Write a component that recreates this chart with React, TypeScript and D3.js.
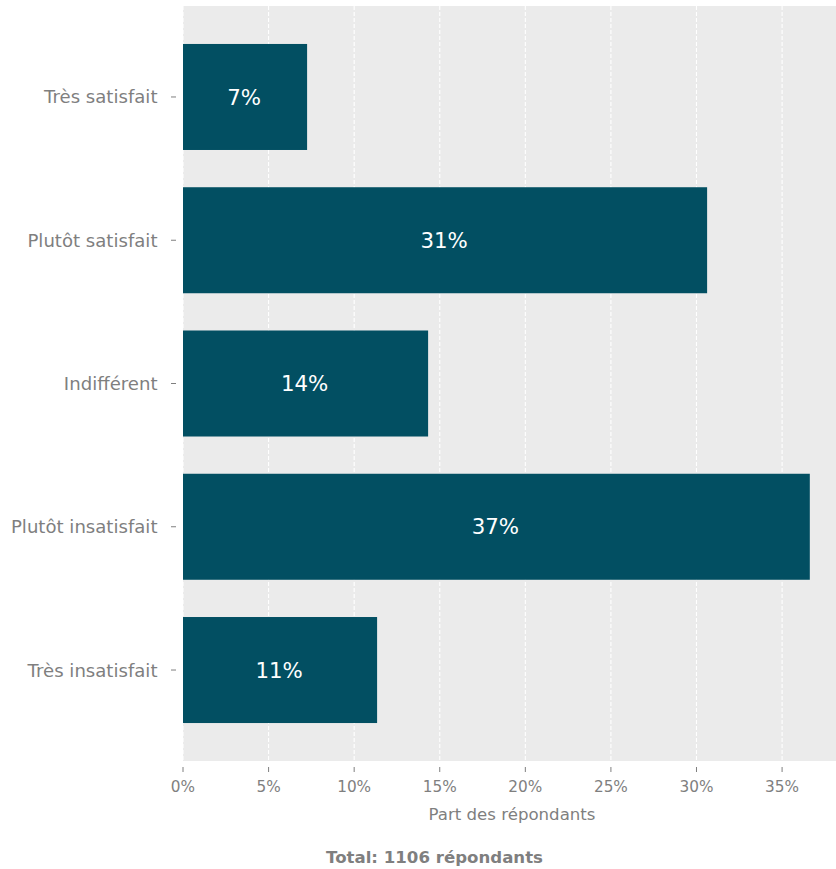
import React from "react";
import * as d3 from "d3";

const categories = ["Très satisfait", "Plutôt satisfait", "Indifférent", "Plutôt insatisfait", "Très insatisfait"];
const values = [0.0725, 0.3062, 0.1432, 0.3662, 0.1134];
const barLabels = ["7%", "31%", "14%", "37%", "11%"];
const xTicks = [0, 0.05, 0.1, 0.15, 0.2, 0.25, 0.3, 0.35];
const xTickLabels = ["0%", "5%", "10%", "15%", "20%", "25%", "30%", "35%"];
const xTitle = "Part des répondants";
const caption = "Total: 1106 répondants";

const W = 836;
const H = 869;
const FONT = "'DejaVu Sans', Verdana, sans-serif";

export default function App() {
  const panel = { left: 183, right: 836, top: 6, bottom: 761 };
  const x = d3.scaleLinear().domain([0, 0.3815]).range([panel.left, panel.right]);
  const y = d3
    .scaleBand<string>()
    .domain(categories)
    .range([panel.top, panel.bottom])
    .paddingInner(0.26)
    .paddingOuter(0.265);
  const grey = "#7f7f7f";
  return (
    <svg
      width={W}
      height={H}
      style={{ position: "absolute", left: 0, top: 0, display: "block" }}
      fontFamily={FONT}
    >
      <rect x={panel.left} y={panel.top} width={panel.right - panel.left} height={panel.bottom - panel.top} fill="#ebebeb" />
      {xTicks.map((t) => (
        <line
          key={"g" + t}
          x1={x(t)}
          x2={x(t)}
          y1={panel.top}
          y2={panel.bottom}
          stroke="#ffffff"
          strokeWidth={1.1}
          strokeDasharray="4,2"
        />
      ))}
      {categories.map((c, i) => (
        <g key={c}>
          <rect x={x(0)} y={y(c)!} width={x(values[i]) - x(0)} height={y.bandwidth()} fill="#024f62" />
          <text
            x={(x(0) + x(values[i])) / 2 - 1}
            y={y(c)! + y.bandwidth() / 2}
            dy="0.36em"
            textAnchor="middle"
            fill="#ffffff"
            fontSize={21.3}
          >
            {barLabels[i]}
          </text>
          <line
            x1={171}
            x2={176}
            y1={y(c)! + y.bandwidth() / 2}
            y2={y(c)! + y.bandwidth() / 2}
            stroke={grey}
            strokeWidth={1}
          />
          <text
            x={157.5}
            y={y(c)! + y.bandwidth() / 2}
            dy="0.36em"
            textAnchor="end"
            fill={grey}
            fontSize={18.1}
          >
            {c}
          </text>
        </g>
      ))}
      {xTicks.map((t, i) => (
        <g key={"t" + t}>
          <line x1={x(t)} x2={x(t)} y1={767} y2={772} stroke={grey} strokeWidth={1} />
          <text x={x(t)} y={787} dy="0.35em" textAnchor="middle" fill={grey} fontSize={15.3}>
            {xTickLabels[i]}
          </text>
        </g>
      ))}
      <text x={512} y={814} dy="0.35em" textAnchor="middle" fill={grey} fontSize={16.6}>
        {xTitle}
      </text>
      <text x={434.5} y={857} dy="0.35em" textAnchor="middle" fill={grey} fontSize={16.6} fontWeight="bold">
        {caption}
      </text>
    </svg>
  );
}
